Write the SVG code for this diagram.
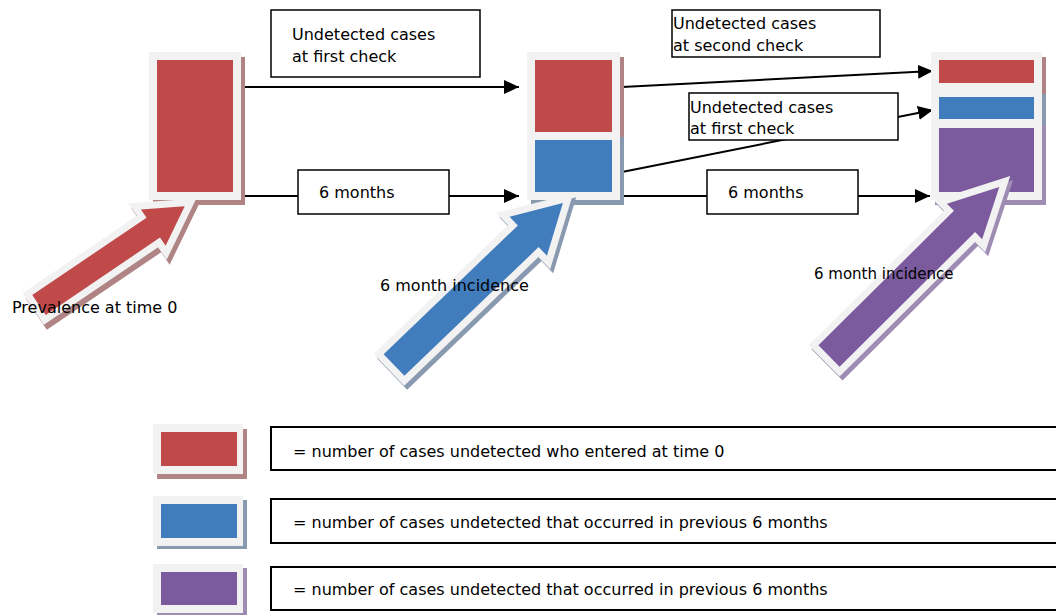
<svg xmlns="http://www.w3.org/2000/svg" width="1056" height="615" viewBox="0 0 1056 615">
<defs>
<marker id="ah" markerUnits="userSpaceOnUse" markerWidth="16" markerHeight="14" refX="15" refY="7" orient="auto">
<path d="M0,0 L15,7 L0,14 Z" fill="#000"/>
</marker>
</defs>
<style>
.frame{fill:#f2f2f2}
.red{fill:#c0494a}
.blue{fill:#417dbd}
.purple{fill:#7c5a9e}
.shr{fill:#b08484}
.shb{fill:#8899b0}
.shp{fill:#9e8cb2}
.conn{stroke:#000;stroke-width:2;fill:none}
.box{fill:#fff;stroke:#000;stroke-width:1.5}
.lbox{fill:#fff;stroke:#000;stroke-width:2}
text{font-family:"DejaVu Sans","Liberation Sans",sans-serif;font-size:16px;fill:#000}
.arr{stroke-width:14;stroke-linejoin:miter;stroke-miterlimit:10;paint-order:stroke}
</style>
<rect width="1056" height="615" fill="#fff"/>

<g id="connectors">
<line class="conn" x1="237" y1="87" x2="519" y2="87" marker-end="url(#ah)"/>
<line class="conn" x1="237" y1="196" x2="519" y2="196" marker-end="url(#ah)"/>
<line class="conn" x1="622" y1="87" x2="933" y2="71" marker-end="url(#ah)"/>
<line class="conn" x1="622" y1="172" x2="933" y2="110" marker-end="url(#ah)"/>
<line class="conn" x1="619" y1="196" x2="930" y2="196" marker-end="url(#ah)"/>
</g>

<g id="node-time0">
<rect class="shr" x="153" y="57" width="92" height="148"/>
<rect class="frame" x="149" y="52" width="92" height="148"/>
<rect class="red" x="157" y="60" width="76" height="132"/>
</g>

<g id="node-6months">
<rect class="shr" x="531" y="57" width="93" height="88"/>
<rect class="shb" x="531" y="137" width="93" height="68"/>
<rect class="frame" x="527" y="52" width="93" height="148"/>
<rect class="red" x="535" y="60" width="77" height="72"/>
<rect class="blue" x="535" y="140" width="77" height="52"/>
</g>

<g id="node-12months">
<rect class="shr" x="935" y="57" width="111" height="39"/>
<rect class="shb" x="935" y="94" width="111" height="38"/>
<rect class="shp" x="935" y="125" width="111" height="80"/>
<rect class="frame" x="931" y="52" width="111" height="148"/>
<rect class="red" x="939" y="60" width="95" height="23"/>
<rect class="blue" x="939" y="97" width="95" height="22"/>
<rect class="purple" x="939" y="128" width="95" height="64"/>
</g>

<g id="arrow-prevalence">
<path class="arr shr" stroke="#b08484" transform="translate(42,310) rotate(-34.1)" d="M0,-12 L138,-12 L138,-22 L176,0 L138,22 L138,12 L0,12 Z"/>
<path class="arr red" stroke="#f2f2f2" transform="translate(39,305) rotate(-34.1)" d="M0,-12 L138,-12 L138,-22 L176,0 L138,22 L138,12 L0,12 Z"/>
<text x="12" y="313">Prevalence at time 0</text>
</g>

<g id="arrow-incidence1">
<path class="arr shb" stroke="#8899b0" transform="translate(397,369) rotate(-43.8)" d="M0,-15 L186,-15 L186,-27 L234,0 L186,27 L186,15 L0,15 Z"/>
<path class="arr blue" stroke="#f2f2f2" transform="translate(394,365) rotate(-43.8)" d="M0,-15 L186,-15 L186,-27 L234,0 L186,27 L186,15 L0,15 Z"/>
<text x="380" y="291">6 month incidence</text>
</g>

<g id="arrow-incidence2">
<path class="arr shp" stroke="#9e8cb2" transform="translate(832,360) rotate(-44.8)" d="M0,-15 L191,-15 L191,-25 L240,0 L191,25 L191,15 L0,15 Z"/>
<path class="arr purple" stroke="#f2f2f2" transform="translate(829,356) rotate(-44.8)" d="M0,-15 L191,-15 L191,-25 L240,0 L191,25 L191,15 L0,15 Z"/>
<text x="814" y="279" style="font-size:15px">6 month incidence</text>
</g>

<g id="label-first-check-1">
<rect class="box" x="271" y="10" width="209" height="67"/>
<text x="292" y="40">Undetected cases</text>
<text x="292" y="62">at first check</text>
</g>
<g id="label-6months-1">
<rect class="box" x="298" y="170" width="151" height="44"/>
<text x="319" y="198">6 months</text>
</g>
<g id="label-second-check">
<rect class="box" x="672" y="10" width="208" height="47"/>
<text x="673" y="29">Undetected cases</text>
<text x="673" y="51">at second check</text>
</g>
<g id="label-first-check-2">
<rect class="box" x="689" y="93" width="209" height="47"/>
<text x="690" y="113">Undetected cases</text>
<text x="690" y="134">at first check</text>
</g>
<g id="label-6months-2">
<rect class="box" x="707" y="170" width="151" height="44"/>
<text x="728" y="198">6 months</text>
</g>

<g id="legend-red">
<rect class="shr" x="157" y="429" width="90" height="50"/>
<rect class="frame" x="153" y="424" width="90" height="50"/>
<rect class="red" x="161" y="432" width="76" height="34"/>
<rect class="lbox" x="271" y="427" width="800" height="43"/>
<text x="293" y="457">= number of cases undetected who entered at time 0</text>
</g>
<g id="legend-blue">
<rect class="shb" x="157" y="500" width="90" height="49"/>
<rect class="frame" x="153" y="496" width="90" height="50"/>
<rect class="blue" x="161" y="504" width="76" height="34"/>
<rect class="lbox" x="271" y="499" width="800" height="44"/>
<text x="293" y="528">= number of cases undetected that occurred in previous 6 months</text>
</g>
<g id="legend-purple">
<rect class="shp" x="157" y="568" width="90" height="50"/>
<rect class="frame" x="153" y="564" width="90" height="49"/>
<rect class="purple" x="161" y="572" width="76" height="33"/>
<rect class="lbox" x="271" y="567" width="800" height="43"/>
<text x="293" y="595">= number of cases undetected that occurred in previous 6 months</text>
</g>
</svg>
